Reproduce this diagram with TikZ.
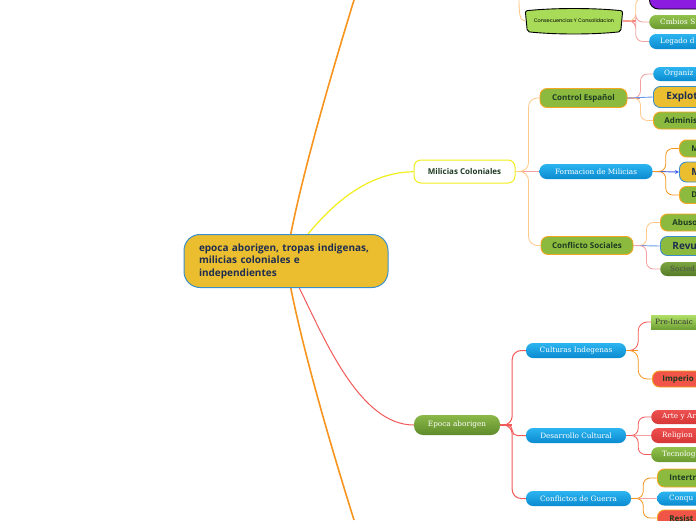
\documentclass[tikz,border=0pt]{standalone}
\usepackage{fontspec}
\setmainfont{Open Sans}
\newfontfamily\osans{Open Sans}
\newfontfamily\dserif{DejaVu Serif}
\newfontfamily\popp{Poppins}
\usetikzlibrary{arrows.meta}
\pgfdeclarelayer{bg}\pgfdeclarelayer{mid}\pgfsetlayers{bg,mid,main}
\definecolor{BlueT}{HTML}{2CB4F0}
\definecolor{BlueB}{HTML}{0A8BD0}
\definecolor{GreenT}{HTML}{92C24C}
\definecolor{GreenB}{HTML}{6A9A30}
\definecolor{RedT}{HTML}{EE5050}
\definecolor{RedB}{HTML}{D63636}
\definecolor{GreenO}{HTML}{8CBA3F}
\definecolor{OrangeB}{HTML}{F5A623}
\definecolor{Gold}{HTML}{EBBE30}
\definecolor{BlueBorder}{HTML}{3A8FCB}
\definecolor{Navy}{HTML}{1F2D4F}
\definecolor{DarkG}{HTML}{1F3A22}
\definecolor{OrangeC}{HTML}{F7941D}
\definecolor{YellowC}{HTML}{F2EE1C}
\definecolor{RedC}{HTML}{F25A5A}
\definecolor{LOrange}{HTML}{FFC98A}
\definecolor{PinkC}{HTML}{F4A0A0}
\definecolor{BlueC}{HTML}{6A9BE8}
\definecolor{BrownC}{HTML}{A07850}
\definecolor{MauveC}{HTML}{C88090}
\definecolor{Purple}{HTML}{8B1CE0}
\definecolor{ConsG}{HTML}{A8DC58}
\newcommand\serifs{\dserif\fontsize{7.3pt}{8pt}\selectfont}
\newcommand\bsans{\osans\bfseries\fontsize{8pt}{9pt}\selectfont}
\newcommand\bigsans{\osans\bfseries\fontsize{10pt}{12pt}\selectfont}
\newcommand\rootfont{\osans\bfseries\fontsize{10pt}{12.5pt}\selectfont}
\newcommand\tinyfont{\popp\fontsize{5pt}{6pt}\selectfont}
\tikzset{
 base/.style={inner sep=0pt, rounded corners=7pt},
 bluebox/.style={base, top color=BlueT, bottom color=BlueB, draw=none, text=white, font=\serifs},
 greenbox/.style={base, top color=GreenT, bottom color=GreenB, draw=none, text=white, font=\serifs},
 redbox/.style={base, top color=RedT, bottom color=RedB, draw=none, text=white, font=\serifs},
 gob/.style={base, fill=GreenO, draw=OrangeB, line width=0.9pt, text=DarkG, font=\bsans},
 rob/.style={base, fill=RedT!90!orange, draw=OrangeB, line width=0.9pt, text=DarkG, font=\bsans},
 goldb/.style={base, fill=Gold, draw=BlueBorder, line width=0.9pt, text=Navy, font=\bigsans},
 gblue/.style={base, fill=GreenO, draw=BlueBorder, line width=0.9pt, text=Navy, font=\bigsans},
 trunc/.style={anchor=west, text width=90pt, align=left, inner xsep=11pt, inner ysep=0pt},
 conn/.style={line width=0.8pt, rounded corners=7pt},
}
\begin{document}
\begin{tikzpicture}[x=1pt,y=-1pt]
\useasboundingbox (0,0) rectangle (696,520);
\clip (0,0) rectangle (696,520);

% ---------- nodes ----------
\node[base, rounded corners=16pt, fill=Gold, draw=BlueBorder, line width=1pt, text=Navy, font=\rootfont,
  text width=174pt, inner xsep=15pt, align=left, minimum height=53pt] (root) at (286,261)
  {epoca aborigen, tropas indigenas,\\milicias coloniales e\\independientes};

\node[base, fill=white, draw=YellowC, line width=1pt, text=DarkG, font=\bsans, minimum width=101pt, minimum height=23pt] (mil) at (464.5,171.5) {Milicias Coloniales};
\node[greenbox, rounded corners=9pt, top color=GreenT!95!black, bottom color=GreenB!90!black, minimum width=86pt, minimum height=20pt] (epoca) at (457,425) {Epoca aborigen};

\node[font=\tinyfont, text=black, minimum width=97pt, minimum height=23pt, inner sep=0pt] (cons) at (574,21) {Consecuencias Y Consolidacion};

\node[gob, minimum width=87pt, minimum height=19pt] (ctrl) at (583.5,98) {Control Español};
\node[bluebox, minimum width=113pt, minimum height=15pt] (form) at (596,171.5) {Formacion de Milicias};
\node[gob, minimum width=92pt, minimum height=18pt] (conf) at (587,245.5) {Conflicto Sociales};

\node[bluebox, minimum width=100pt, minimum height=15pt] (cult) at (576,350.5) {Culturas Indegenas};
\node[bluebox, minimum width=100pt, minimum height=15pt] (desa) at (576,435.5) {Desarrollo Cultural};
\node[bluebox, minimum width=105pt, minimum height=15pt] (guer) at (578.5,498.5) {Conflictos de Guerra};

% truncated nodes at the right edge
\node[base, fill=Purple, draw=black, line width=0.9pt, rounded corners=9pt, font=\serifs, text=black, trunc, minimum height=22pt, inner xsep=14pt] (purp) at (649,-2) {Creacio};
\node[greenbox, trunc, minimum height=14pt] (cmb) at (649,22) {Cmbios S};
\node[bluebox, trunc, minimum height=15pt] (leg) at (649,41.5) {Legado d};

\node[bluebox, trunc, minimum height=14pt] (org) at (653,74) {Organiz};
\node[goldb, trunc, inner xsep=13pt, minimum height=21pt] (expl) at (653,97) {Explot};
\node[gob, trunc, minimum height=17pt] (adm) at (653,120.5) {Adminis};

\node[gob, trunc, inner xsep=12pt, minimum height=17pt] (m1) at (679,148.5) {M};
\node[goldb, trunc, inner xsep=12pt, minimum height=20pt] (m2) at (679,172) {M};
\node[gob, trunc, inner xsep=12pt, minimum height=17pt] (d1) at (679,195) {D};

\node[gob, trunc, inner xsep=12pt, minimum height=17pt] (abu) at (660,222.5) {Abuso};
\node[gblue, trunc, inner xsep=12pt, minimum height=19pt] (rev) at (660,246) {Revu};
\node[greenbox, top color=GreenT!85!black, bottom color=GreenB!80!black, text=black!70, trunc, inner xsep=10pt, minimum height=14pt] (soc) at (660,269) {Socied};

\node[base, rounded corners=0pt, top color=ConsG!90!white, bottom color=GreenB!90!ConsG, text=black!80, font=\serifs, trunc, inner xsep=4pt, minimum height=14pt] (pre) at (651,322) {Pre-Incaic};
\node[rob, trunc, inner xsep=10pt, minimum height=16pt] (imp) at (652,379) {Imperio};

\node[redbox, trunc, minimum height=14pt] (arte) at (651,417) {Arte y Ar};
\node[redbox, trunc, minimum height=15pt] (rel) at (651,435.5) {Religion};
\node[greenbox, trunc, minimum height=15pt] (tec) at (651,454.5) {Tecnolog};

\node[gob, trunc, inner xsep=12pt, minimum height=18pt] (inter) at (657,478) {Intertr};
\node[bluebox, trunc, inner xsep=12pt, minimum height=14pt] (conq) at (657,498.5) {Conqu};
\node[rob, trunc, inner xsep=12pt, minimum height=16pt] (res) at (657,518) {Resist};

\coordinate (topend) at (354,0);
\coordinate (botend) at (354,520);
\coordinate (ctop) at (519,0);

% ---------- consecuencias shape ----------
\begin{pgfonlayer}{mid}
\draw[fill=ConsG, draw=black, line width=0.9pt, rounded corners=2pt]
  ([shift={(0,1.5)}]cons.north west)
  .. controls ([shift={(30,-1.5)}]cons.north west) and ([shift={(-30,-1.5)}]cons.north east) .. ([shift={(0,1.5)}]cons.north east)
  -- ([shift={(-2,-1)}]cons.south east)
  .. controls ([shift={(-30,2)}]cons.south east) and ([shift={(30,2)}]cons.south west) .. ([shift={(2,-1)}]cons.south west)
  -- cycle;
\end{pgfonlayer}

% ---------- connectors ----------
\begin{pgfonlayer}{bg}
\fill[white] (0,0) rectangle (696,520);
\draw[OrangeC, line width=1.6pt] (root.center) .. controls (296,195) and (328,85) .. (topend);
\draw[OrangeC, line width=1.6pt] (root.center) .. controls (296,327) and (328,437) .. (botend);
\draw[YellowC, line width=1.2pt] (root) .. controls (340,195) and (375,172) .. (mil);
\draw[RedC, line width=1pt] (root) .. controls (325,340) and (360,425) .. (epoca);
\draw[LOrange, line width=0.9pt] (ctop) .. controls (519,14) and (520,21) .. (cons.west);

% consecuencias children
\draw[PinkC!80!red, line width=1.3pt] (cons.east) -- ++(13,0);
\draw[conn, LOrange] (cons.east) -- ++(13,0) |- (purp.west);
\draw[conn, PinkC] (cons.east) -- ++(13,0) |- (cmb.west);
\draw[conn, PinkC] (cons.east) -- ++(13,0) |- (leg.west);

% milicias children
\draw[PinkC, line width=1.2pt] (mil.east) -- (form.west);
\draw[conn, LOrange, rounded corners=9pt] (mil.east) -- ++(13,0) |- (ctrl.west);
\draw[conn, LOrange, rounded corners=9pt] (mil.east) -- ++(13,0) |- (conf.west);

% control espanol children
\draw[MauveC, line width=1.2pt] (ctrl.east) -- ++(13,0);
\draw[conn, PinkC] (ctrl.east) -- ++(13,0) |- (org.west);
\draw[BlueC, line width=0.9pt] (ctrl.east) -- (expl.west);
\draw[conn, LOrange] (ctrl.east) -- ++(13,0) |- (adm.west);

% formacion children
\draw[BrownC, line width=1.4pt] (form.east) -- ++(13,0);
\draw[conn, OrangeC] (form.east) -- ++(13,0) |- (m1.west);
\draw[BlueC!60!blue, line width=0.9pt, -{Stealth[length=4pt,width=4pt]}] (form.east) -- (m2.west);
\draw[conn, OrangeC] (form.east) -- ++(13,0) |- (d1.west);

% conflicto sociales children
\draw[MauveC, line width=1.2pt] (conf.east) -- ++(13,0);
\draw[conn, LOrange] (conf.east) -- ++(13,0) |- (abu.west);
\draw[BlueC, line width=0.9pt] (conf.east) -- (rev.west);
\draw[conn, PinkC] (conf.east) -- ++(13,0) |- (soc.west);

% epoca aborigen children
\draw[conn, RedC, line width=1pt, rounded corners=9pt] (epoca.east) -- ++(12,0) |- (cult.west);
\draw[conn, RedC, line width=1pt, rounded corners=5pt] (epoca.east) -- ++(12,0) |- (desa.west);
\draw[conn, RedC, line width=1pt, rounded corners=9pt] (epoca.east) -- ++(12,0) |- (guer.west);
\draw[RedC, line width=1.4pt] (epoca.east) -- ++(12,0);

% culturas children
\draw[OrangeC, line width=1.4pt] (cult.east) -- ++(12,0);
\draw[conn, RedC, rounded corners=9pt] (cult.east) -- ++(12,0) |- (pre.west);
\draw[conn, OrangeC, rounded corners=9pt] (cult.east) -- ++(12,0) |- (imp.west);

% desarrollo children
\draw[RedC, line width=1.4pt] (desa.east) -- ++(12,0);
\draw[conn, RedC] (desa.east) -- ++(12,0) |- (arte.west);
\draw[PinkC, line width=1pt] (desa.east) -- (rel.west);
\draw[conn, RedC] (desa.east) -- ++(12,0) |- (tec.west);

% guerra children
\draw[OrangeC, line width=1.6pt] (guer.east) -- ++(12,0);
\draw[conn, OrangeC] (guer.east) -- ++(12,0) |- (inter.west);
\draw[PinkC, line width=1.2pt] (guer.east) -- (conq.west);
\draw[conn, OrangeC] (guer.east) -- ++(12,0) |- (res.west);
\end{pgfonlayer}
\end{tikzpicture}
\end{document}
